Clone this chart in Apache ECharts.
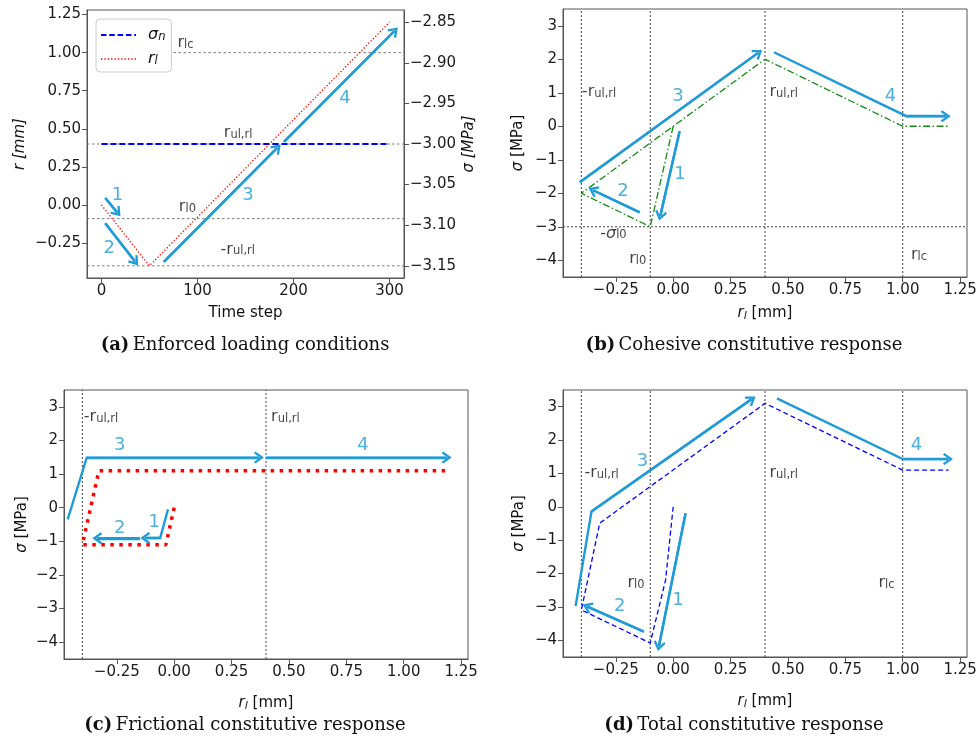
<!DOCTYPE html>
<html><head><meta charset="utf-8">
<script src="https://cdn.jsdelivr.net/npm/echarts@6/dist/echarts.min.js"></script>
<style>html,body{margin:0;padding:0;background:#fff}#c{width:980px;height:740px}</style>
</head><body><div id="c"></div>
<script>
// ================= DATA =================
// (a) enforced loading conditions
const timeA = [0, 50, 300];
const rlA = [0, -0.4, 1.2];
const timeSigmaA = [0, 300];
const sigmaNA = [-3.0, -3.0];
const refValsA = [1.0, 0.4, -0.09, -0.4];          // r_lc, r_ul,rl, r_l0, -r_ul,rl
const refStartA = [75, -15, -15, -15];
// (b) cohesive response
const rB = [0, -0.1, -0.4, 0.4, 1.0, 1.2];
const sigB = [0, -3, -2, 2, 0, 0];
const vRefB = [-0.4, -0.1, 0.4, 1.0];
const hRefB = [-3];
// (c) frictional response
const rC = [0, -0.036, -0.4, -0.328, 1.2];
const sigC = [0, -1.1, -1.1, 1.1, 1.1];
const vRefC = [-0.4, 0.4];
// (d) total response
const rD = [0, -0.033, -0.1, -0.4, -0.32, 0.4, 1.0, 1.2];
const sigD = [0, -2.19, -4.08, -3.09, -0.49, 3.1, 1.1, 1.1];
const vRefD = [-0.4, -0.1, 0.4, 1.0];
// tick labels
const ticksTime = [0, 100, 200, 300];
const ticksR = [-0.25, 0, 0.25, 0.5, 0.75, 1.0, 1.25];
const ticksSigA = [-3.15, -3.10, -3.05, -3.00, -2.95, -2.90, -2.85];
const ticksRl = [-0.25, 0, 0.25, 0.5, 0.75, 1.0, 1.25];
const ticksSig = [-4, -3, -2, -1, 0, 1, 2, 3];
// arrow annotations (data coordinates)
const arrowsA = [
  [[4, 0.045], [16.5, -0.05]],
  [[4, -0.12], [35, -0.372]],
  [[65, -0.374], [183, 0.374]],
  [[190, 0.414], [305, 1.142]]
];
const arrowNumsA = [[16.6, 0.066, '1'], [8.2, -0.284, '2'], [152.7, 0.066, '3'], [253.6, 0.70, '4']];
const arrowsB = [
  [[0.028, -0.15], [-0.056, -2.67]],
  [[-0.146, -2.57], [-0.349, -1.91]],
  [[-0.407, -1.67], [0.37, 2.19]],
  [[0.439, 2.21], [1.016, 0.30], [1.187, 0.30]]
];
const arrowNumsB = [[0.03, -1.44, '1'], [-0.219, -1.94, '2'], [0.021, 0.89, '3'], [0.947, 0.89, '4']];
const arrowsC = [
  [[-0.027, -0.05], [-0.061, -0.9], [-0.126, -0.9]],
  [[-0.15, -0.91], [-0.335, -0.91]],
  [[-0.464, -0.35], [-0.381, 1.49], [0.369, 1.49]],
  [[0.4, 1.49], [1.187, 1.49]]
];
const arrowNumsC = [[-0.087, -0.43, '1'], [-0.237, -0.62, '2'], [-0.237, 1.86, '3'], [0.822, 1.86, '4']];
const arrowsD = [
  [[0.054, -0.19], [-0.062, -4.17]],
  [[-0.128, -3.74], [-0.374, -2.99]],
  [[-0.425, -2.97], [-0.356, -0.14], [0.341, 3.22]],
  [[0.452, 3.25], [1.0, 1.43], [1.197, 1.43]]
];
const arrowNumsD = [[0.021, -2.81, '1'], [-0.233, -2.97, '2'], [-0.134, 1.35, '3'], [1.06, 1.85, '4']];
// text annotations (data coordinates, left-middle)
const textsA = [[78.7, 1.062, '{m|r}{s|lc}'], [126.9, 0.474, '{m|r}{s|ul,rl}'], [80.1, -0.0145, '{m|r}{s|l0}'], [123.5, -0.292, '{m|-r}{s|ul,rl}']];
const textsB = [[-0.40, 1.02, '{m|-r}{s|ul,rl}'], [0.417, 1.02, '{m|r}{s|ul,rl}'], [-0.32, -3.2, '{m|-}{mi|σ}{s|l0}'], [-0.194, -3.97, '{m|r}{s|l0}'], [1.034, -3.83, '{m|r}{s|lc}']];
const textsC = [[-0.396, 2.71, '{m|-r}{s|ul,rl}'], [0.42, 2.71, '{m|r}{s|ul,rl}']];
const textsD = [[-0.389, 1.02, '{m|-r}{s|ul,rl}'], [0.417, 1.02, '{m|r}{s|ul,rl}'], [-0.201, -2.27, '{m|r}{s|l0}'], [0.892, -2.27, '{m|r}{s|lc}']];

// ================= STYLE =================
const FONT = 'DejaVu Sans';
const CAPFONT = 'DejaVu Serif';
const ARROW = '#1f9bd7';
const FRAME = '#555';
const CHEVRON = 'path://M6,0L12,7.6L10.3,9L6,3.6L1.7,9L0,7.6Z';

const zip = (xs, ys) => xs.map((x, i) => [x, ys[i]]);
const minus = s => s.replace('-', '\u2212');
const fmt2 = v => minus(v.toFixed(2));
const fmt0 = v => minus(String(Math.round(v)));

const R_MAIN = {fontFamily: FONT, fontSize: 16, color: '#111', lineHeight: 16, verticalAlign: 'top'};
const R_SUB = {fontFamily: FONT, fontSize: 11.5, color: '#111', lineHeight: 12, verticalAlign: 'bottom', padding: [8, 0, 0, 0]};
const richLbl = {m: R_MAIN, mi: Object.assign({}, R_MAIN, {fontStyle: 'italic'}), s: R_SUB};
const N_MAIN = {fontFamily: FONT, fontSize: 15, color: '#111', lineHeight: 16, verticalAlign: 'top'};
const richName = {
  n: N_MAIN,
  i: Object.assign({}, N_MAIN, {fontStyle: 'italic'}),
  is: {fontFamily: FONT, fontSize: 11, fontStyle: 'italic', color: '#111', lineHeight: 12, verticalAlign: 'bottom', padding: [6, 0, 0, 0]}
};

function axis(kind, grid, min, max, ticks, fmt, name, gap, extra) {
  const a = {
    type: 'value', gridIndex: grid, min: min, max: max,
    axisLine: {show: true, onZero: false, lineStyle: {color: FRAME, width: 1}},
    axisTick: {show: true, inside: false, length: 5, lineStyle: {color: FRAME, width: 1}, customValues: ticks},
    axisLabel: {customValues: ticks, formatter: fmt, color: '#1a1a1a', fontFamily: FONT, fontSize: 15, margin: 6},
    splitLine: {show: false},
    name: name, nameLocation: 'middle', nameGap: gap,
    nameTextStyle: {rich: richName, fontFamily: FONT, fontSize: 15, color: '#111'}
  };
  if (kind === 'y') a.nameRotate = 90;
  return Object.assign(a, extra || {});
}

const xAxes = [
  axis('x', 0, -15, 315, ticksTime, v => String(v), '{n|Time step}', 28),
  axis('x', 1, -0.48, 1.28, ticksRl, fmt2, '{i|r}{is|l}{n| [mm]}', 29),
  axis('x', 2, -0.48, 1.28, ticksRl, fmt2, '{i|r}{is|l}{n| [mm]}', 37),
  axis('x', 3, -0.48, 1.28, ticksRl, fmt2, '{i|r}{is|l}{n| [mm]}', 37)
];
const yAxes = [
  axis('y', 0, -0.48, 1.28, ticksR, fmt2, '{i|r [mm]}', 58),
  axis('y', 0, -3.165, -2.835, ticksSigA, fmt2, '{i|σ [MPa]}', 58, {position: 'right'}),
  axis('y', 1, -4.5, 3.5, ticksSig, fmt0, '{i|σ}{n| [MPa]}', 36),
  axis('y', 2, -4.5, 3.5, ticksSig, fmt0, '{i|σ}{n| [MPa]}', 33),
  axis('y', 3, -4.5, 3.5, ticksSig, fmt0, '{i|σ}{n| [MPa]}', 35)
];

const grids = [
  {left: 87, top: 10, width: 317, height: 268},
  {left: 563, top: 9, width: 404, height: 268},
  {left: 64, top: 390, width: 404, height: 269},
  {left: 563, top: 390, width: 404, height: 267}
].map(g => Object.assign(g, {show: true, borderColor: FRAME, borderWidth: 1, backgroundColor: '#fff', containLabel: false}));

const series = [];
function lineS(xi, yi, data, style, name, z) {
  series.push({
    type: 'line', name: name, xAxisIndex: xi, yAxisIndex: yi, data: data,
    symbol: 'none', showSymbol: false, silent: true, animation: false, z: z || 2,
    itemStyle: {color: style.color},
    lineStyle: style
  });
}
function refLinesH(xi, yi, vals, starts, xmax) {
  vals.forEach((v, k) => lineS(xi, yi, [[starts[k], v], [xmax, v]], {color: '#7a7a7a', width: 1, type: [2.5, 2.5]}));
}
function refLinesV(xi, yi, vals) {
  vals.forEach(v => lineS(xi, yi, [[v, -4.5], [v, 3.5]], {color: '#444', width: 1, type: [2, 2]}));
}
function arrows(xi, yi, list) {
  list.forEach(pts => {
    const n = pts.length;
    series.push({
      type: 'line', xAxisIndex: xi, yAxisIndex: yi, data: pts, symbol: 'none', showSymbol: false,
      silent: true, animation: false, z: 5,
      lineStyle: {color: ARROW, width: 2.4, cap: 'butt', join: 'miter'},
      markLine: {
        silent: true, animation: false, symbol: ['none', CHEVRON], symbolSize: [12, 10],
        lineStyle: {color: ARROW, width: 2.4, type: 'solid'}, label: {show: false},
        data: [[{coord: pts[n - 2]}, {coord: pts[n - 1]}]]
      }
    });
  });
}
function texts(xi, yi, list, isNum) {
  series.push({
    type: 'scatter', xAxisIndex: xi, yAxisIndex: yi, silent: true, animation: false, z: 6,
    symbolSize: 1, itemStyle: {color: 'rgba(0,0,0,0)'},
    data: list.map(t => ({
      value: [t[0], t[1]],
      label: isNum
        ? {show: true, position: 'inside', formatter: t[2], color: ARROW, fontFamily: FONT, fontSize: 18}
        : {show: true, position: 'right', distance: 0, formatter: t[2], rich: richLbl}
    }))
  });
}

// ---- (a)
refLinesH(0, 0, refValsA, refStartA, 315);
lineS(0, 1, zip(timeSigmaA, sigmaNA), {color: '#0000ff', width: 1.8, type: [6, 3]}, 'sn', 3);
lineS(0, 0, zip(timeA, rlA), {color: '#ff0000', width: 1.3, type: [1.3, 2]}, 'rl', 3);
arrows(0, 0, arrowsA);
texts(0, 0, arrowNumsA, true);
texts(0, 0, textsA, false);
// ---- (b)
refLinesV(1, 2, vRefB);
hRefB.forEach(v => lineS(1, 2, [[-0.48, v], [1.28, v]], {color: '#444', width: 1, type: [2, 2]}));
lineS(1, 2, zip(rB, sigB), {color: '#138a13', width: 1.3, type: [7, 2.5, 1.5, 2.5]}, 'coh', 3);
arrows(1, 2, arrowsB);
texts(1, 2, arrowNumsB, true);
texts(1, 2, textsB, false);
// ---- (c)
refLinesV(2, 3, vRefC);
lineS(2, 3, zip(rC, sigC), {color: '#ff0000', width: 3.5, type: [3.5, 5.5]}, 'fric', 3);
arrows(2, 3, arrowsC);
texts(2, 3, arrowNumsC, true);
texts(2, 3, textsC, false);
// ---- (d)
refLinesV(3, 4, vRefD);
lineS(3, 4, zip(rD, sigD), {color: '#0000ff', width: 1.3, type: [5, 3]}, 'tot', 3);
arrows(3, 4, arrowsD);
texts(3, 4, arrowNumsD, true);
texts(3, 4, textsD, false);

// legend icons (dash patterns drawn as small filled pieces)
function patternPath(total, dash, gap, h) {
  let p = 'path://';
  for (let x = 0; x < total - 0.01; x += dash + gap) {
    const w = Math.min(dash, total - x);
    p += 'M' + x.toFixed(2) + ',0h' + w.toFixed(2) + 'v' + h + 'h-' + w.toFixed(2) + 'z';
  }
  return p;
}
const ICON_DASH = patternPath(35, 5.5, 2.8, 1.8);
const ICON_DOT = patternPath(35, 1.3, 2.0, 1.3);

const legendRich = {
  i: {fontFamily: FONT, fontSize: 16, fontStyle: 'italic', color: '#111', lineHeight: 16, verticalAlign: 'top', padding: [0, 0, 0, 7]},
  is: {fontFamily: FONT, fontSize: 11.5, fontStyle: 'italic', color: '#111', lineHeight: 12, verticalAlign: 'bottom', padding: [7, 0, 0, 0]}
};

function caption(x, y, tag, text) {
  return {
    type: 'text', x: x, y: y, silent: true,
    style: {
      text: '{b|' + tag + '} {t|' + text + '}',
      align: 'center', verticalAlign: 'middle',
      rich: {
        b: {fontFamily: CAPFONT, fontSize: 18, fontWeight: 'bold', fill: '#111'},
        t: {fontFamily: CAPFONT, fontSize: 18, fill: '#111'}
      }
    }
  };
}

const chart = echarts.init(document.getElementById('c'), null, {renderer: 'canvas'});
chart.setOption({
  animation: false,
  backgroundColor: '#fff',
  grid: grids,
  xAxis: xAxes,
  yAxis: yAxes,
  legend: {
    left: 96, top: 19, orient: 'vertical', align: 'left',
    itemWidth: 35, itemHeight: 2, itemGap: 5,
    padding: [5, 6, 5, 5],
    backgroundColor: '#fff', borderColor: '#ccc', borderWidth: 1, borderRadius: 4,
    data: [{name: 'sn', icon: ICON_DASH}, {name: 'rl', icon: ICON_DOT}],
    formatter: n => n === 'sn' ? '{i|σ}{is|n}' : '{i|r}{is|l}',
    textStyle: {rich: legendRich}
  },
  series: series,
  graphic: [
    caption(245, 345, '(a)', 'Enforced loading conditions'),
    caption(744, 345, '(b)', 'Cohesive constitutive response'),
    caption(245, 725, '(c)', 'Frictional constitutive response'),
    caption(744, 725, '(d)', 'Total constitutive response')
  ]
});
</script></body></html>
